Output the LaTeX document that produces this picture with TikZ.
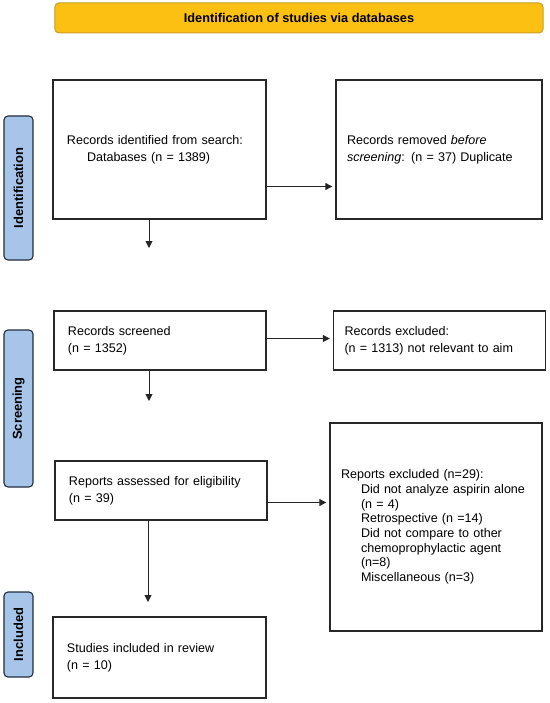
\documentclass[tikz,border=0pt]{standalone}
\usepackage{fontspec}
\setmainfont{Liberation Sans}
\usetikzlibrary{arrows.meta}

\definecolor{headgold}{RGB}{252,192,18}
\definecolor{headedge}{RGB}{200,158,40}
\definecolor{tabblue}{RGB}{166,197,232}
\definecolor{tabedge}{RGB}{34,46,62}
\definecolor{boxedge}{RGB}{40,40,40}

\tikzset{
  stagebox/.style={draw=boxedge, line width=1.3bp, align=left, inner xsep=14bp,
    font=\fontsize{12.6}{17.5}\selectfont},
  phasetab/.style={draw=tabedge, fill=tabblue, line width=1.1bp, rounded corners=4bp,
    rotate=90, minimum height=29bp, inner sep=0pt, font=\fontsize{13}{15}\selectfont\bfseries},
  flow/.style={draw=black!85, line width=0.9bp, -{Triangle[length=7bp,width=7bp]}}
}

\begin{document}
\begin{tikzpicture}[x=1bp,y=-1bp]

    % page size
    \useasboundingbox (0,0) rectangle (550,703);

    % title bar
    \node[draw=headedge, fill=headgold, line width=1bp, rounded corners=4bp,
      minimum width=488bp, minimum height=30bp, inner sep=0pt,
      font=\fontsize{12.8}{15}\selectfont\bfseries] (header) at (299,18)
      {Identification of studies via databases};

    % phase tabs
    \node[phasetab, minimum width=144bp] (tabid) at (18.5,188) {Identification};
    \node[phasetab, minimum width=157bp] (tabscr) at (18.5,408.5) {Screening};
    \node[phasetab, minimum width=85bp] (tabinc) at (18.5,634.5) {Included};

    % left column
    \node[stagebox, text width=185bp, minimum height=139bp] (ident) at (159.5,149.5)
      {Records identified from search:\\\hspace*{20bp}Databases (n = 1389)};
    \node[stagebox, text width=184bp, minimum height=59bp] (screened) at (160,340.5)
      {Records screened\\(n = 1352)};
    \node[stagebox, text width=184bp, minimum height=59bp] (assessed) at (161,490.5)
      {Reports assessed for eligibility\\(n = 39)};
    \node[stagebox, text width=185bp, minimum height=81bp] (included) at (159.5,657.5)
      {Studies included in review\\(n = 10)};

    % right column
    \node[stagebox, text width=184bp, inner xsep=11bp, minimum height=139bp] (removed) at (439,149.5)
      {Records removed \emph{before}\\\emph{screening}: (n = 37) Duplicate};
    \node[stagebox, text width=190bp, inner xsep=11bp, minimum height=59bp] (excluded) at (439.5,340.5)
      {Records excluded:\\(n = 1313) not relevant to aim};
    \node[stagebox, text width=190bp, inner xsep=11bp, minimum height=208bp,
      font=\fontsize{12.6}{14.7}\selectfont] (reportsex) at (436,527)
      {Reports excluded (n=29):\\
       \hspace*{20bp}Did not analyze aspirin alone\\
       \hspace*{20bp}(n = 4)\\
       \hspace*{20bp}Retrospective (n =14)\\
       \hspace*{20bp}Did not compare to other\\
       \hspace*{20bp}chemoprophylactic agent\\
       \hspace*{20bp}(n=8)\\
       \hspace*{20bp}Miscellaneous (n=3)};

    % arrow ends
    \coordinate (d1) at (149,248);
    \coordinate (d2) at (149,401);
    \coordinate (d3) at (148,602);

    % draw arrows
    \draw[flow] (d1 |- ident.south) -- (d1);
    \draw[flow] (d2 |- screened.south) -- (d2);
    \draw[flow] (d3 |- assessed.south) -- (d3);
    \draw[flow, shorten >=3bp] ([yshift=-37bp]ident.east) coordinate (r1) -- (r1 -| removed.west);
    \draw[flow, shorten >=3bp] ([yshift=2bp]screened.east) coordinate (r2) -- (r2 -| excluded.west);
    \draw[flow, shorten >=3bp] ([yshift=-12bp]assessed.east) coordinate (r3) -- (r3 -| reportsex.west);
  \end{tikzpicture}
\end{document}
